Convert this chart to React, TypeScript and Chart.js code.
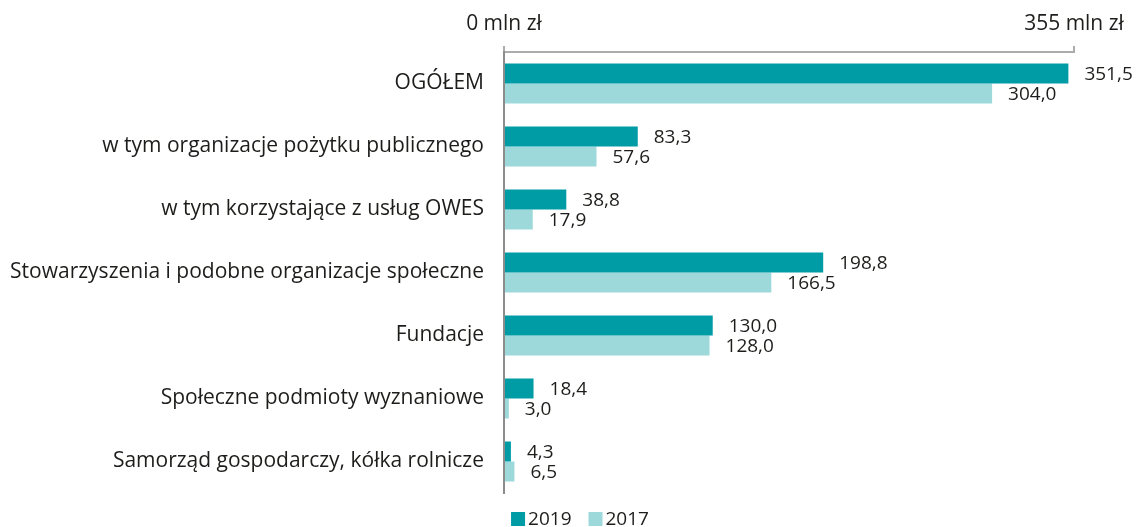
import React, { useEffect, useRef } from "react";
import { Chart, registerables } from "chart.js";

Chart.register(...registerables);

const categories = [
  "OGÓŁEM",
  "w tym organizacje pożytku publicznego",
  "w tym korzystające z usług OWES",
  "Stowarzyszenia i podobne organizacje społeczne",
  "Fundacje",
  "Społeczne podmioty wyznaniowe",
  "Samorząd gospodarczy, kółka rolnicze",
];
const series2019 = [351.5, 83.3, 38.8, 198.8, 130.0, 18.4, 4.3];
const series2017 = [304.0, 57.6, 17.9, 166.5, 128.0, 3.0, 6.5];
const seriesNames = ["2019", "2017"];
const axisTicks = [0, 355];
const axisUnit = " mln zł";

const FONT = "'Open Sans', sans-serif";
const TEXT = "#1d1d1b";
const C2019 = "#009ca6";
const C2017 = "#9dd8db";

const fmt = (v: number) => v.toFixed(1).replace(".", ",");

const valueLabels = {
  id: "valueLabels",
  afterDatasetsDraw(chart: any) {
    const ctx = chart.ctx;
    ctx.save();
    ctx.font = `19px ${FONT}`;
    ctx.fillStyle = TEXT;
    ctx.textAlign = "left";
    ctx.textBaseline = "middle";
    chart.data.datasets.forEach((ds: any, di: number) => {
      const meta = chart.getDatasetMeta(di);
      meta.data.forEach((bar: any, i: number) => {
        ctx.fillText(fmt(ds.data[i]), bar.x + 16, bar.y + 1);
      });
    });
    ctx.restore();
  },
};

// Custom bottom legend (square + label), centred like the reference
const customLegend = {
  id: "customLegend",
  afterDraw(chart: any) {
    const ctx = chart.ctx;
    ctx.save();
    ctx.font = `19px ${FONT}`;
    ctx.textBaseline = "middle";
    ctx.textAlign = "left";
    const box = 14;
    const gapBoxText = 3;
    const gapItems = 17;
    const items = chart.data.datasets.map((ds: any) => ({
      text: ds.label,
      color: ds.backgroundColor,
      w: ctx.measureText(ds.label).width,
    }));
    const total =
      items.reduce((s: number, it: any) => s + box + gapBoxText + it.w, 0) +
      gapItems * (items.length - 1);
    let x = 580 - total / 2;
    const cy = 519;
    items.forEach((it: any) => {
      ctx.fillStyle = it.color;
      ctx.fillRect(x, cy - box / 2, box, box);
      ctx.fillStyle = TEXT;
      ctx.fillText(it.text, x + box + gapBoxText, cy + 1);
      x += box + gapBoxText + it.w + gapItems;
    });
    ctx.restore();
  },
};

export default function App() {
  const ref = useRef<HTMLCanvasElement | null>(null);
  useEffect(() => {
    if (!ref.current) return;
    const chart = new Chart(ref.current, {
      type: "bar",
      data: {
        labels: categories,
        datasets: [
          {
            label: seriesNames[0],
            data: series2019,
            backgroundColor: C2019,
            borderWidth: 0,
            categoryPercentage: 0.635,
            barPercentage: 1,
          },
          {
            label: seriesNames[1],
            data: series2017,
            backgroundColor: C2017,
            borderWidth: 0,
            categoryPercentage: 0.635,
            barPercentage: 1,
          },
        ],
      },
      options: {
        indexAxis: "y",
        animation: false,
        responsive: true,
        maintainAspectRatio: false,
        layout: { padding: { left: 0, right: 66, top: 0, bottom: 34 } },
        plugins: {
          legend: { display: false },
          tooltip: { enabled: false },
        },
        scales: {
          x: {
            position: "top",
            min: 0,
            max: 355,
            afterBuildTicks: (scale: any) => {
              scale.ticks = axisTicks.map((v) => ({ value: v }));
            },
            afterFit: (scale: any) => {
              scale.height = 52;
              scale.paddingLeft = 0;
              scale.paddingRight = 0;
            },
            grid: {
              drawOnChartArea: false,
              drawTicks: true,
              tickLength: 6,
              color: "#acacac",
              lineWidth: 2,
            },
            border: { display: true, color: "#acacac", width: 2 },
            ticks: {
              padding: 9,
              maxRotation: 0,
              color: TEXT,
              font: { family: FONT, size: 21 },
              callback: (v: any) => `${v}${axisUnit}`,
            },
          },
          y: {
            afterFit: (scale: any) => {
              scale.width = 504;
            },
            grid: { drawOnChartArea: false, drawTicks: false },
            border: { display: true, color: "#8c8c8c", width: 2 },
            ticks: {
              padding: 20,
              color: TEXT,
              font: { family: FONT, size: 21 },
            },
          },
        },
      },
      plugins: [valueLabels, customLegend],
    });
    return () => chart.destroy();
  }, []);
  return (
    <div style={{ position: "absolute", left: 0, top: 0, width: 1140, height: 527 }}>
      <canvas ref={ref} />
    </div>
  );
}
